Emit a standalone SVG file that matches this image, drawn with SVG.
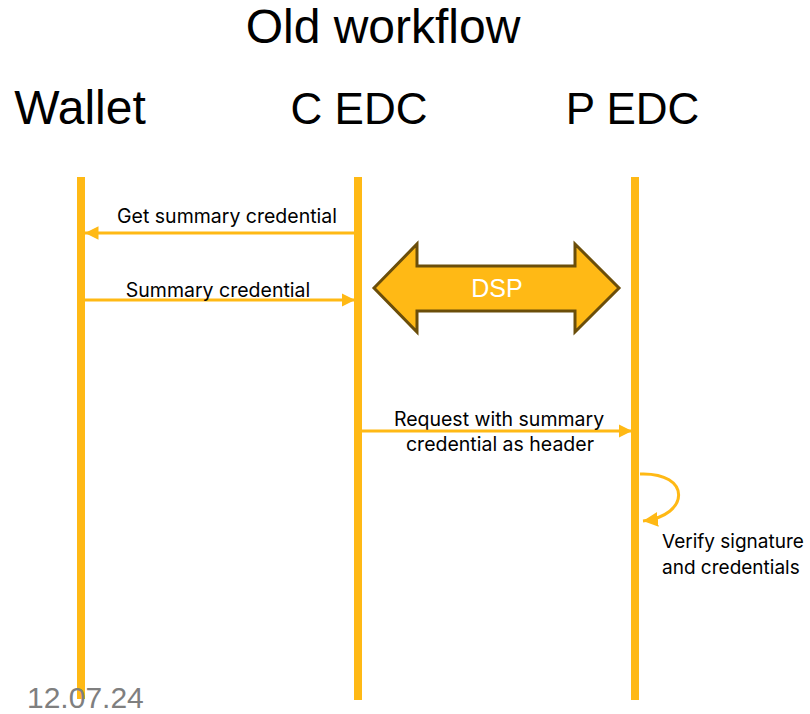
<svg xmlns="http://www.w3.org/2000/svg" width="810" height="714" viewBox="0 0 810 714">
<defs>
<style>
.t{font-family:"Liberation Sans",Arial,sans-serif;fill:#000}
.h{font-size:48px}
.h2{font-size:44px}
.s{font-family:Inter,"Liberation Sans",Arial,sans-serif;font-size:19.5px;fill:#000}
.life{stroke:#FFB915;stroke-width:8;fill:none}
.msg{stroke:#FFB915;stroke-width:3;fill:none}
</style>
<marker id="ah" viewBox="0 0 10 10" refX="10" refY="5" markerWidth="4.5" markerHeight="4.5" orient="auto" markerUnits="strokeWidth">
<path d="M0,0 L10,5 L0,10 Z" fill="#FFB915"/>
</marker>
<marker id="ah2" viewBox="0 0 10 10" refX="10" refY="5" markerWidth="5" markerHeight="5" orient="auto" markerUnits="strokeWidth">
<path d="M0,0 L10,5 L0,10 Z" fill="#FFB915"/>
</marker>
</defs>
<rect width="810" height="714" fill="#fff"/>
<text class="t h" x="383" y="43" text-anchor="middle">Old workflow</text>
<g id="wallet">
<text class="t h" x="80" y="124" text-anchor="middle">Wallet</text>
<line class="life" x1="81" y1="177" x2="81" y2="699"/>
</g>
<g id="cedc">
<text class="t h2" x="359" y="124" text-anchor="middle">C EDC</text>
<line class="life" x1="358" y1="177" x2="358" y2="700"/>
</g>
<g id="pedc">
<text class="t h2" x="632.5" y="124" text-anchor="middle">P EDC</text>
<line class="life" x1="635" y1="177" x2="635" y2="700"/>
</g>
<g id="dsp">
<path d="M374,288 L417,244 L417,266 L575,266 L575,244 L619,288 L575,332 L575,311 L417,311 L417,332 Z" fill="#FFB915" stroke="#6B4E0A" stroke-width="3" stroke-linejoin="miter"/>
<text x="497" y="297" text-anchor="middle" font-family="'Liberation Sans',Arial,sans-serif" font-size="25" fill="#fff">DSP</text>
</g>
<g id="connectors">
<line class="msg" x1="356" y1="233" x2="85" y2="233" marker-end="url(#ah)"/>
<text class="s" x="227" y="223" text-anchor="middle">Get summary credential</text>
<line class="msg" x1="85" y1="300" x2="355" y2="300" marker-end="url(#ah)"/>
<text class="s" x="218" y="297" text-anchor="middle">Summary credential</text>
<line class="msg" x1="362" y1="431" x2="632" y2="431" marker-end="url(#ah)"/>
<text class="s" x="499" y="426" text-anchor="middle">Request with summary</text>
<text class="s" x="500" y="451" text-anchor="middle">credential as header</text>
<path class="msg" d="M640,474 C692,472 690,516 643,521" marker-end="url(#ah2)"/>
<text class="s" x="662" y="548" style="font-size:19px">Verify signature</text>
<text class="s" x="662" y="574" style="font-size:19px">and credentials</text>
</g>
<text x="27" y="708" font-family="'Liberation Sans',Arial,sans-serif" font-size="30" fill="#7F7F7F">12.07.24</text>
</svg>
